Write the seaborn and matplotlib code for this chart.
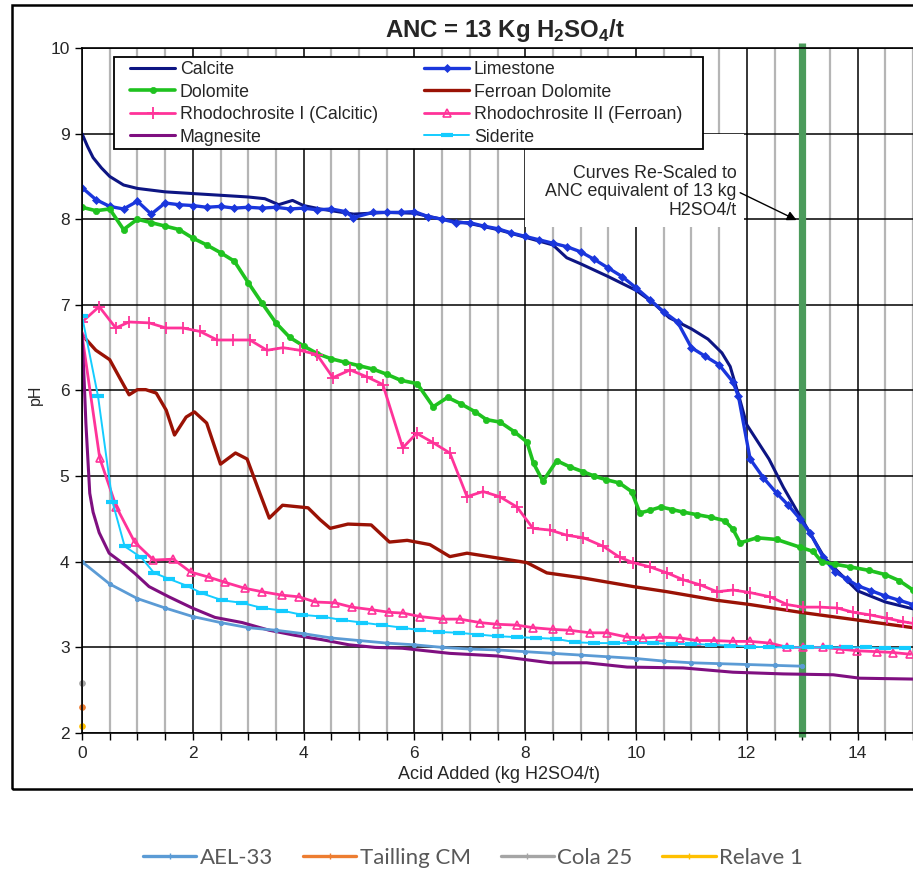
import matplotlib
matplotlib.use("Agg")
import matplotlib.pyplot as plt
from matplotlib.lines import Line2D
from matplotlib.patches import Rectangle
from matplotlib.ticker import MultipleLocator
import numpy as np
import pandas as pd
import seaborn as sns

sns.set_style("white")
plt.rcParams["font.family"] = ["Liberation Sans", "DejaVu Sans"]
plt.rcParams["mathtext.fontset"] = "custom"
plt.rcParams["mathtext.rm"] = "Liberation Sans"
plt.rcParams["mathtext.bf"] = "Liberation Sans:bold"

# ---------------- data: pH vs acid added (kg H2SO4/t) ----------------
calcite_x = [0, 0.1, 0.2, 0.35, 0.5, 0.75, 1.0, 1.5, 2.0, 2.5, 3.0, 3.3, 3.55, 3.8, 4.0,
             4.3, 4.9, 5.5, 6.0, 6.5, 7.0, 7.5, 8.0, 8.5, 8.75, 9.0, 9.5, 10.0, 10.3,
             10.6, 11.0, 11.3, 11.55, 11.7, 11.85, 12.0, 12.1, 12.4, 12.66, 12.9, 13.1,
             13.4, 13.56, 14.0, 14.5, 15.0]
calcite_y = [9.0, 8.85, 8.72, 8.6, 8.5, 8.4, 8.36, 8.32, 8.3, 8.28, 8.26, 8.24, 8.17, 8.22,
             8.16, 8.12, 8.06, 8.08, 8.07, 8.0, 7.95, 7.88, 7.79, 7.7, 7.55, 7.48, 7.33,
             7.17, 7.03, 6.85, 6.72, 6.6, 6.44, 6.28, 5.95, 5.6, 5.5, 5.2, 4.87, 4.6,
             4.38, 4.05, 3.94, 3.66, 3.53, 3.45]

limestone_x = [0, 0.25, 0.5, 0.75, 1.0, 1.25, 1.5, 1.75, 2.0, 2.25, 2.5, 2.75, 3.0, 3.25,
               3.5, 3.75, 4.0, 4.25, 4.5, 4.75, 4.9, 5.25, 5.5, 5.75, 6.0, 6.25, 6.5, 6.75,
               7.0, 7.25, 7.5, 7.75, 8.0, 8.25, 8.5, 8.75, 9.0, 9.25, 9.5, 9.75, 10.0,
               10.25, 10.5, 10.75, 11.0, 11.25, 11.5, 11.75, 11.85, 12.06, 12.3, 12.54,
               12.75, 12.96, 13.14, 13.38, 13.6, 13.8, 14.0, 14.25, 14.5, 14.75, 15.0]
limestone_y = [8.37, 8.23, 8.15, 8.12, 8.21, 8.06, 8.19, 8.17, 8.16, 8.14, 8.15, 8.13, 8.14,
               8.13, 8.14, 8.12, 8.13, 8.11, 8.12, 8.09, 8.02, 8.08, 8.08, 8.08, 8.09, 8.03,
               8.0, 7.96, 7.96, 7.92, 7.89, 7.84, 7.8, 7.76, 7.72, 7.68, 7.62, 7.53, 7.43,
               7.33, 7.2, 7.06, 6.92, 6.8, 6.5, 6.4, 6.3, 6.1, 5.93, 5.2, 4.98, 4.8, 4.66,
               4.5, 4.34, 4.05, 3.88, 3.8, 3.72, 3.66, 3.6, 3.55, 3.5]

dolomite_x = [0, 0.25, 0.5, 0.75, 1.0, 1.25, 1.5, 1.75, 2.0, 2.25, 2.5, 2.75, 3.0, 3.25,
              3.5, 3.75, 4.0, 4.25, 4.5, 4.75, 5.0, 5.25, 5.5, 5.75, 6.05, 6.34, 6.6,
              6.85, 7.1, 7.3, 7.55, 7.8, 8.03, 8.15, 8.32, 8.57, 8.8, 9.05, 9.25, 9.45,
              9.7, 9.92, 10.07, 10.25, 10.45, 10.65, 10.85, 11.1, 11.35, 11.6, 11.75,
              11.88, 12.18, 12.54, 12.96, 13.2, 13.35, 13.6, 13.86, 14.2, 14.5, 14.75, 15.0]
dolomite_y = [8.14, 8.1, 8.12, 7.88, 8.0, 7.96, 7.92, 7.88, 7.78, 7.7, 7.61, 7.51, 7.26,
              7.02, 6.79, 6.62, 6.52, 6.43, 6.37, 6.33, 6.29, 6.25, 6.19, 6.12, 6.08, 5.81,
              5.92, 5.84, 5.75, 5.66, 5.63, 5.52, 5.4, 5.15, 4.94, 5.18, 5.11, 5.05, 5.0,
              4.96, 4.92, 4.82, 4.57, 4.6, 4.64, 4.61, 4.58, 4.55, 4.52, 4.48, 4.38, 4.22,
              4.28, 4.26, 4.17, 4.12, 4.0, 3.97, 3.94, 3.9, 3.85, 3.78, 3.67]

ferroan_x = [0, 0.25, 0.5, 0.67, 0.85, 1.0, 1.15, 1.34, 1.52, 1.67, 1.88, 2.03, 2.25, 2.5,
             2.77, 2.98, 3.21, 3.38, 3.62, 4.08, 4.3, 4.48, 4.8, 5.22, 5.55, 5.87, 6.28,
             6.64, 6.95, 7.54, 8.03, 8.39, 9.05, 9.95, 10.56, 11.46, 12.06, 12.96, 13.99,
             15.0]
ferroan_y = [6.65, 6.47, 6.36, 6.16, 5.95, 6.01, 6.01, 5.97, 5.77, 5.48, 5.69, 5.75, 5.62,
             5.14, 5.27, 5.2, 4.8, 4.51, 4.66, 4.63, 4.49, 4.39, 4.44, 4.43, 4.23, 4.25,
             4.2, 4.06, 4.1, 4.04, 3.99, 3.87, 3.81, 3.71, 3.65, 3.55, 3.5, 3.41, 3.32,
             3.23]

rhodo1_x = [0, 0.31, 0.61, 0.85, 1.21, 1.52, 1.82, 2.13, 2.44, 2.73, 3.03, 3.34, 3.63,
            3.93, 4.24, 4.53, 4.84, 5.14, 5.43, 5.79, 6.04, 6.34, 6.64, 6.95, 7.24, 7.54,
            7.85, 8.14, 8.45, 8.75, 9.05, 9.41, 9.71, 9.95, 10.25, 10.56, 10.85, 11.16,
            11.46, 11.75, 12.06, 12.42, 12.73, 13.01, 13.32, 13.63, 13.92, 14.22, 14.53,
            14.82, 15.0]
rhodo1_y = [6.8, 6.98, 6.73, 6.8, 6.79, 6.73, 6.73, 6.69, 6.59, 6.59, 6.59, 6.47, 6.5,
            6.47, 6.42, 6.15, 6.24, 6.16, 6.07, 5.33, 5.5, 5.39, 5.27, 4.76, 4.82, 4.76,
            4.64, 4.39, 4.37, 4.31, 4.28, 4.18, 4.05, 3.99, 3.94, 3.87, 3.79, 3.73, 3.65,
            3.67, 3.64, 3.59, 3.5, 3.47, 3.47, 3.46, 3.41, 3.38, 3.34, 3.3, 3.28]

rhodo2_x = [0, 0.32, 0.62, 0.95, 1.29, 1.65, 1.96, 2.29, 2.58, 2.94, 3.25, 3.61, 3.92,
            4.21, 4.57, 4.87, 5.23, 5.54, 5.8, 6.1, 6.52, 6.82, 7.18, 7.49, 7.85, 8.14,
            8.5, 8.8, 9.17, 9.48, 9.84, 10.13, 10.43, 10.79, 11.1, 11.4, 11.75, 12.06,
            12.42, 12.73, 13.01, 13.38, 13.68, 13.99, 14.35, 14.64, 14.95]
rhodo2_y = [6.65, 5.21, 4.64, 4.23, 4.02, 4.03, 3.88, 3.82, 3.76, 3.69, 3.65, 3.61, 3.59,
            3.53, 3.52, 3.47, 3.44, 3.41, 3.4, 3.36, 3.33, 3.33, 3.29, 3.27, 3.26, 3.23,
            3.21, 3.2, 3.17, 3.17, 3.12, 3.11, 3.12, 3.11, 3.08, 3.08, 3.07, 3.07, 3.05,
            3.0, 3.0, 3.0, 2.98, 2.96, 2.95, 2.94, 2.92]

magnesite_x = [0, 0.04, 0.07, 0.14, 0.2, 0.31, 0.49, 0.72, 0.96, 1.21, 1.57, 1.99, 2.4,
               2.89, 3.38, 3.85, 4.33, 4.82, 5.29, 5.78, 6.64, 7.49, 8.45, 9.11, 9.84,
               10.85, 11.75, 12.66, 13.56, 14.04, 15.0]
magnesite_y = [6.65, 6.1, 5.62, 4.8, 4.58, 4.34, 4.1, 3.99, 3.86, 3.71, 3.59, 3.46, 3.35,
               3.29, 3.2, 3.14, 3.09, 3.03, 3.0, 2.99, 2.93, 2.9, 2.82, 2.82, 2.77, 2.76,
               2.71, 2.69, 2.68, 2.64, 2.63]

siderite_x = [0, 0.29, 0.55, 0.77, 1.07, 1.3, 1.57, 1.89, 2.17, 2.53, 2.89, 3.25, 3.61,
              3.97, 4.33, 4.69, 5.05, 5.42, 5.78, 6.1, 6.45, 6.8, 7.15, 7.5, 7.85, 8.2,
              8.55, 8.9, 9.25, 9.6, 9.95, 10.3, 10.65, 11.0, 11.35, 11.7, 12.05, 12.4,
              12.75, 13.1, 13.45, 13.8, 14.15, 14.5, 14.85]
siderite_y = [6.87, 5.93, 4.7, 4.18, 4.05, 3.87, 3.8, 3.72, 3.63, 3.55, 3.52, 3.46, 3.43,
              3.38, 3.36, 3.32, 3.29, 3.26, 3.23, 3.2, 3.18, 3.17, 3.15, 3.13, 3.12, 3.11,
              3.1, 3.06, 3.05, 3.05, 3.05, 3.05, 3.04, 3.04, 3.03, 3.02, 3.01, 3.0, 3.0,
              3.0, 3.0, 3.0, 3.0, 2.99, 2.99]

ael33_x = [0, 0.5, 1.0, 1.5, 2.0, 2.5, 3.0, 3.5, 4.0, 4.5, 5.0, 5.5, 6.0, 6.5, 7.0, 7.5,
           8.0, 8.5, 9.0, 9.5, 10.0, 10.5, 11.0, 11.5, 12.0, 12.5, 13.0]
ael33_y = [4.0, 3.74, 3.57, 3.46, 3.36, 3.29, 3.23, 3.2, 3.16, 3.11, 3.08, 3.05, 3.03,
           3.0, 2.98, 2.97, 2.95, 2.93, 2.91, 2.89, 2.87, 2.84, 2.82, 2.81, 2.8, 2.79, 2.78]

# single initial readings
tailling_x, tailling_y = [0.0], [2.3]
cola_x, cola_y = [0.0], [2.58]
relave_x, relave_y = [0.0], [2.08]

anc_target = 13.0

# ---------------- figure ----------------
W, H = 913, 871
fig = plt.figure(figsize=(W / 100, H / 100), dpi=100)
ax = fig.add_axes([82 / W, 138 / H, 831 / W, 685 / H])

# chart-area border
fig.patches.append(Rectangle((12 / W, 82 / H), 1.2, (866 - 82) / H, transform=fig.transFigure,
                             fill=False, edgecolor="black", linewidth=1.8, zorder=0))


def draw(x, y, label, color, **kw):
    df = pd.DataFrame({"x": x, "y": y})
    kw.setdefault("markeredgecolor", color)
    sns.lineplot(data=df, x="x", y="y", ax=ax, color=color, label=label,
                 estimator=None, sort=False, **kw)


draw(calcite_x, calcite_y, "Calcite", "#0d1583", lw=2.2)
draw(limestone_x, limestone_y, "Limestone", "#1a36dc", lw=2.4, marker="D", markersize=4.5,
     markeredgewidth=0.5)
draw(dolomite_x, dolomite_y, "Dolomite", "#1fc21f", lw=2.6, marker="o", markersize=4.5,
     markeredgewidth=0.5)
draw(ferroan_x, ferroan_y, "Ferroan Dolomite", "#9a1205", lw=2.4)
draw(rhodo1_x, rhodo1_y, "Rhodochrosite I (Calcitic)", "#ff3399", lw=2.0, marker="+",
     markersize=9, markeredgewidth=1.3)
draw(rhodo2_x, rhodo2_y, "Rhodochrosite II (Ferroan)", "#ff3399", lw=2.0, marker="^",
     markersize=6, markerfacecolor="none", markeredgewidth=1.2)
draw(magnesite_x, magnesite_y, "Magnesite", "#7f0f80", lw=2.2)
draw(siderite_x, siderite_y, "Siderite", "#14ccff", lw=1.4, marker="_", markersize=9,
     markeredgewidth=3)
draw(ael33_x, ael33_y, "AEL-33", "#5b9bd5", lw=2.0, marker="o", markersize=3)
draw(tailling_x, tailling_y, "Tailling CM", "#ed7d31", lw=2.0, marker="o", markersize=4,
     clip_on=False)
draw(cola_x, cola_y, "Cola 25", "#a5a5a5", lw=2.0, marker="o", markersize=4, clip_on=False)
draw(relave_x, relave_y, "Relave 1", "#ffc000", lw=2.0, marker="o", markersize=4,
     clip_on=False)

# ANC line
ax.plot([anc_target, anc_target], [1.95, 10.06], color="#4b9b5b", lw=5.2, zorder=1.5,
        clip_on=False, solid_capstyle="butt")

# axes, grid, ticks
ax.set_xlim(0, 15)
ax.set_ylim(2, 10)
ax.xaxis.set_major_locator(MultipleLocator(2))
ax.xaxis.set_minor_locator(MultipleLocator(0.5))
ax.yaxis.set_major_locator(MultipleLocator(1))
ax.set_axisbelow(True)
ax.grid(which="minor", axis="x", color="#b5b5b5", lw=1.6)
ax.grid(which="major", axis="both", color="black", lw=1.1)
ax.tick_params(axis="both", which="both", direction="out", length=5, width=1,
               color="black", labelsize=12.5, pad=4, bottom=True, left=True)
for s in ["left", "bottom", "top"]:
    ax.spines[s].set_color("black")
    ax.spines[s].set_linewidth(1.2)
ax.spines["right"].set_visible(False)
ax.set_xlabel("")
ax.set_ylabel("")

fig.text(499 / W, 1 - 774 / H, "Acid Added (kg H2SO4/t)", ha="center", va="center",
         fontsize=13)
fig.text(35 / W, 1 - 395 / H, "pH", ha="center", va="center", rotation=90, fontsize=11.5)
fig.text(505 / W, 1 - 31 / H, r"ANC = 13 Kg H$_\mathbf{2}$SO$_\mathbf{4}$/t", ha="center",
         va="center", fontsize=17.3, fontweight="bold")

# annotation text box
ax.add_patch(Rectangle((8.0, 7.91), 3.95, 1.08, facecolor="white", edgecolor="none",
                       zorder=1))
ax.text(11.82, 8.32, "Curves Re-Scaled to\nANC equivalent of 13 kg\nH2SO4/t", ha="right",
        va="center", fontsize=12.8, linespacing=1.12, zorder=3)
ax.annotate("", xy=(12.9, 7.99), xytext=(11.88, 8.31),
            arrowprops=dict(arrowstyle="-|>", color="black", lw=1.0, mutation_scale=14,
                            shrinkA=0, shrinkB=0), zorder=3)

# mineral legend (two columns inside the plot)
handles, labels = ax.get_legend_handles_labels()
hmap = dict(zip(labels, handles))
if ax.legend_ is not None:
    ax.legend_.remove()
order = ["Calcite", "Dolomite", "Rhodochrosite I (Calcitic)", "Magnesite",
         "Limestone", "Ferroan Dolomite", "Rhodochrosite II (Ferroan)", "Siderite"]
ax.add_patch(Rectangle(((114 - 82) / 831, (733 - 149) / 685), (703 - 114) / 831,
                       (149 - 57) / 685, transform=ax.transAxes, facecolor="white",
                       edgecolor="black", lw=1.3, zorder=4.5))
leg = ax.legend([hmap[k] for k in order], order, ncol=2, loc="upper left",
                bbox_to_anchor=((130 - 82) / 831, (733 - 61) / 685), frameon=False,
                fontsize=12.8, handlelength=2.55, handletextpad=0.25, columnspacing=2.6,
                labelspacing=0.31, borderpad=0, borderaxespad=0)
leg.set_zorder(5)

# sample legend below the chart
bottom_names = ["AEL-33", "Tailling CM", "Cola 25", "Relave 1"]
bottom_colors = ["#5b9bd5", "#ed7d31", "#a5a5a5", "#ffc000"]
bh = [Line2D([], [], color=c, lw=2.4, marker="+", markersize=4, markeredgewidth=1)
      for c in bottom_colors]
fig.legend(bh, bottom_names, ncol=4, loc="center", bbox_to_anchor=(473 / W, 1 - 858 / H),
           frameon=False, prop={"family": "Lato", "size": 16}, labelcolor="#595959",
           handlelength=2.4, handletextpad=0.15, columnspacing=1.35)

fig.savefig("out.png", dpi=100)
